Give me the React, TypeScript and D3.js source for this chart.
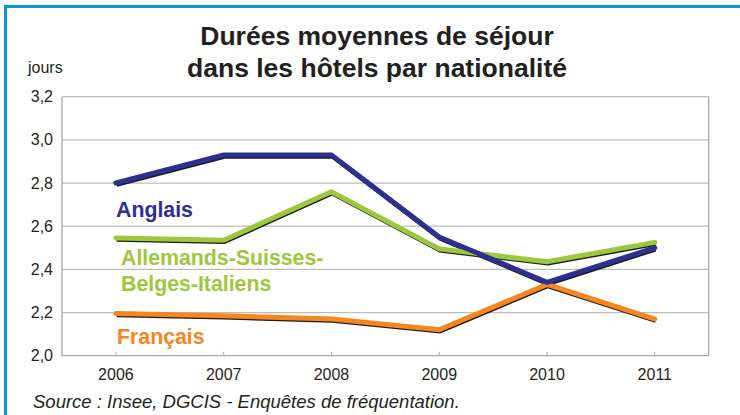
import { useEffect, useRef } from "react";
import * as d3 from "d3";

const years = ["2006", "2007", "2008", "2009", "2010", "2011"];
const anglais = [2.8, 2.93, 2.93, 2.55, 2.34, 2.5];
const allemands = [2.545, 2.535, 2.76, 2.495, 2.435, 2.525];
const francais = [2.195, 2.185, 2.17, 2.12, 2.33, 2.17];
const yTicks = [2.0, 2.2, 2.4, 2.6, 2.8, 3.0, 3.2];

type Series = { name: string[]; values: number[]; color: string; lx: number; ly: number };

const series: Series[] = [
  { name: ["Français"], values: francais, color: "#f7861f", lx: 117, ly: 344 },
  { name: ["Allemands-Suisses-", "Belges-Italiens"], values: allemands, color: "#9cc83b", lx: 121, ly: 265 },
  { name: ["Anglais"], values: anglais, color: "#2e3091", lx: 116, ly: 217 },
];

const W = 740;
const H = 415;
const font = "'Liberation Sans', Arial, sans-serif";

const App = () => {
  const svgRef = useRef<SVGSVGElement | null>(null);

  useEffect(() => {
    const svg = d3.select(svgRef.current);
    svg.selectAll("*").remove();

    const left = 62, right = 708.7, top = 96.7, bottom = 355.7;
    const x = d3.scalePoint<string>().domain(years).range([left, right]).padding(0.5);
    const y = d3.scaleLinear().domain([2.0, 3.2]).range([bottom, top]);

    svg.append("rect").attr("width", W).attr("height", H).attr("fill", "#fff");

    // cadre bleu
    svg.append("rect")
      .attr("x", 5.5).attr("y", 6.5)
      .attr("width", 800).attr("height", 500)
      .attr("fill", "none").attr("stroke", "#0898d8").attr("stroke-width", 3);

    // grille
    const grid = svg.append("g");
    grid.selectAll("line")
      .data(yTicks.slice(1))
      .enter().append("line")
      .attr("x1", left).attr("x2", right)
      .attr("y1", d => y(d)).attr("y2", d => y(d))
      .attr("stroke", "#bdbdbd").attr("stroke-width", 1.2);

    // cadre du graphique
    svg.append("path")
      .attr("d", `M${left},${top}V${bottom}H${right}V${top}`)
      .attr("fill", "none").attr("stroke", "#a8a8a8").attr("stroke-width", 1.3);

    // graduations x
    svg.append("g").selectAll("line")
      .data(years).enter().append("line")
      .attr("x1", d => x(d)!).attr("x2", d => x(d)!)
      .attr("y1", bottom).attr("y2", bottom - 4)
      .attr("stroke", "#a8a8a8").attr("stroke-width", 1);

    svg.append("g").selectAll("text")
      .data(years).enter().append("text")
      .attr("x", d => x(d)!).attr("y", 380)
      .attr("text-anchor", "middle")
      .style("font", `16px ${font}`).attr("fill", "#231f20")
      .text(d => d);

    svg.append("g").selectAll("text")
      .data(yTicks).enter().append("text")
      .attr("x", 53).attr("y", d => y(d) + 5.5)
      .attr("text-anchor", "end")
      .style("font", `16px ${font}`).attr("fill", "#231f20")
      .text(d => d.toFixed(1).replace(".", ","));

    svg.append("text")
      .attr("x", 28).attr("y", 73)
      .style("font", `16px ${font}`).attr("fill", "#231f20")
      .text("jours");

    // titre
    const title = svg.append("text")
      .attr("text-anchor", "middle")
      .style("font", `bold 26.5px ${font}`).attr("fill", "#231f20");
    title.append("tspan").attr("x", 377).attr("y", 45).text("Durées moyennes de séjour");
    title.append("tspan").attr("x", 377).attr("y", 77).text("dans les hôtels par nationalité");

    const line = d3.line<number>()
      .x((_, i) => x(years[i])!)
      .y(d => y(d));

    // ombres
    const shadows = svg.append("g").attr("transform", "translate(0.8,2)");
    series.forEach(s => {
      shadows.append("path")
        .attr("d", line(s.values))
        .attr("fill", "none").attr("stroke", "#1a1a1a")
        .attr("stroke-width", 3.5).attr("stroke-linejoin", "miter");
    });

    series.forEach(s => {
      svg.append("path")
        .attr("d", line(s.values))
        .attr("fill", "none").attr("stroke", s.color)
        .attr("stroke-width", 5).attr("stroke-linecap", "round").attr("stroke-linejoin", "miter");
    });

    series.forEach(s => {
      const t = svg.append("text")
        .style("font", `bold 21.3px ${font}`).attr("fill", s.color);
      s.name.forEach((n, i) => {
        t.append("tspan").attr("x", s.lx).attr("y", s.ly + i * 26).text(n);
      });
    });

    svg.append("text")
      .attr("x", 33).attr("y", 408)
      .style("font", `italic 18.5px ${font}`).attr("fill", "#231f20")
      .text("Source : Insee, DGCIS - Enquêtes de fréquentation.");
  }, []);

  return (
    <svg ref={svgRef} width={W} height={H}
      style={{ position: "absolute", left: 0, top: 0, display: "block" }} />
  );
};

export default App;
